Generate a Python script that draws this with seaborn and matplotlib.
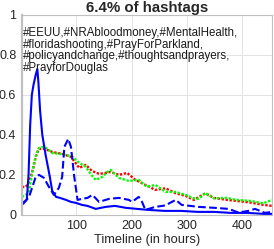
import numpy as np
import pandas as pd
import seaborn as sns
import matplotlib
matplotlib.use("Agg")
import matplotlib.pyplot as plt
from matplotlib.ticker import MultipleLocator

# hours / normalised values
solid_x = [1, 5, 10, 13, 16, 19, 22, 26, 29, 31, 34, 38, 44, 51, 56, 63, 70, 81, 90, 99,
           110, 120, 135, 153, 170, 190, 210, 230, 260, 290, 320, 350, 380, 410, 440, 455]
solid_y = [0.05, 0.06, 0.08, 0.2, 0.45, 0.6, 0.65, 0.7, 0.73, 0.66, 0.52, 0.4, 0.3, 0.2,
           0.12, 0.09, 0.085, 0.075, 0.065, 0.06, 0.05, 0.045, 0.03, 0.04, 0.045, 0.035,
           0.03, 0.025, 0.02, 0.02, 0.015, 0.015, 0.01, 0.01, 0.005, 0.005]

dash_x = [1, 8, 14, 20, 26, 32, 41, 50, 59, 68, 74, 78, 85, 90, 96, 102, 110, 120, 129,
          141, 159, 177, 195, 201, 213, 219, 225, 243, 261, 280, 291, 322, 352, 376, 394,
          412, 424, 442, 455]
dash_y = [0.06, 0.07, 0.09, 0.14, 0.19, 0.2, 0.185, 0.14, 0.1, 0.135, 0.19, 0.34, 0.38,
          0.34, 0.19, 0.075, 0.08, 0.085, 0.1, 0.065, 0.08, 0.085, 0.075, 0.065, 0.09,
          0.065, 0.025, 0.04, 0.047, 0.075, 0.05, 0.04, 0.035, 0.03, 0.012, 0.02, 0.03,
          0.01, 0.015]

green_x = [1, 8, 14, 18, 23, 28, 32, 38, 45, 56, 70, 81, 93, 105, 117, 127, 135, 147,
           156, 162, 177, 195, 213, 228, 243, 262, 280, 298, 313, 322, 334, 349, 373,
           390, 415, 439, 455]
green_y = [0.09, 0.1, 0.12, 0.18, 0.26, 0.31, 0.335, 0.34, 0.335, 0.31, 0.305, 0.3, 0.29,
           0.26, 0.24, 0.2, 0.175, 0.19, 0.215, 0.225, 0.185, 0.17, 0.175, 0.14, 0.15,
           0.115, 0.115, 0.1, 0.083, 0.08, 0.11, 0.083, 0.085, 0.075, 0.07, 0.058, 0.075]

red_x = [1, 8, 13, 17, 22, 26, 32, 42, 56, 74, 90, 105, 117, 128, 141, 153, 162, 177,
         192, 207, 225, 243, 262, 280, 298, 313, 334, 349, 373, 390, 415, 439, 455]
red_y = [0.14, 0.14, 0.16, 0.19, 0.24, 0.29, 0.33, 0.33, 0.315, 0.305, 0.29, 0.235, 0.25,
         0.22, 0.205, 0.21, 0.215, 0.2, 0.21, 0.175, 0.15, 0.125, 0.133, 0.108, 0.095,
         0.075, 0.108, 0.085, 0.075, 0.07, 0.062, 0.05, 0.045]

title = "6.4% of hashtags"
tags = ("#EEUU,#NRAbloodmoney,#MentalHealth,\n#floridashooting,#PrayForParkland,\n"
        "#policyandchange,#thoughtsandprayers,\n#PrayforDouglas")

sns.set_style("whitegrid")
plt.rcParams['font.family'] = ['Liberation Sans', 'DejaVu Sans']

fig = plt.figure(figsize=(2.74, 2.49), dpi=100)
ax = fig.add_axes([0.080, 0.137, 0.913, 0.803])

dots = (0, (1, 0.7))
sns.lineplot(x=red_x, y=red_y, ax=ax, color='#ff0000', linestyle=dots, linewidth=1.7)
sns.lineplot(x=green_x, y=green_y, ax=ax, color='#00ff00', linestyle=dots, linewidth=1.7)
sns.lineplot(x=dash_x, y=dash_y, ax=ax, color='#0000ff', linestyle='--', linewidth=1.5)
sns.lineplot(x=solid_x, y=solid_y, ax=ax, color='#0000ff', linestyle='-', linewidth=1.5)

ax.set_xlim(1, 455)
ax.set_ylim(0, 1)
ax.set_xticks([100, 200, 300, 400])
ax.set_yticks([0, 0.2, 0.4, 0.6, 0.8, 1])
ax.set_yticklabels(["0", "0.2", "0.4", "0.6", "0.8", "1"])
ax.xaxis.set_minor_locator(MultipleLocator(20))
ax.tick_params(axis='both', labelsize=9, length=0, pad=4, colors='#262626')
ax.tick_params(axis='x', which='minor', length=2, color='#a0a0a0', direction='in')
ax.grid(True, color='#e3e3e3', linewidth=0.7)
for s in ax.spines.values():
    s.set_color('#c0c0c0')
    s.set_linewidth(0.8)
ax.spines['left'].set_linewidth(1.6)

ax.set_xlabel("Timeline (in hours)", fontsize=9.3, labelpad=1, color='#262626')
ax.set_title(title, fontsize=10.8, fontweight='bold', pad=2)
ax.text(0.003, 0.94, tags, transform=ax.transAxes, fontsize=8.3, va='top', ha='left',
        linespacing=0.97, color='#1a1a1a')

fig.savefig("out.png", dpi=100)
